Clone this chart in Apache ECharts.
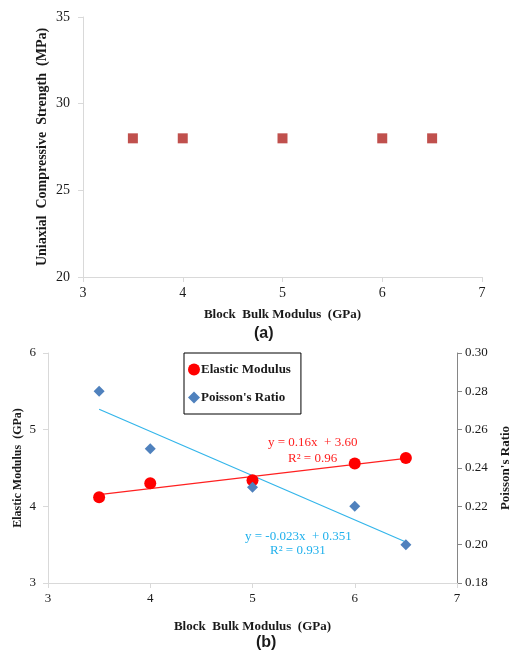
<!DOCTYPE html>
<html>
<head>
<meta charset="utf-8">
<script src="https://cdn.jsdelivr.net/npm/echarts@6/dist/echarts.min.js"></script>
<style>
html,body{margin:0;padding:0;background:#fff;}
#chart{width:510px;height:651px;}
</style>
</head>
<body>
<div id="chart"></div>
<script>
// ---- data ----
const bulkModulus = [3.5, 4, 5, 6, 6.5];
const ucsValues = [28, 28, 28, 28, 28];
const elasticModulus = [4.12, 4.30, 4.34, 4.56, 4.63];
const poissonRatio = [0.28, 0.25, 0.23, 0.22, 0.20];
const topYTicks = [20, 25, 30, 35];
const xTicks = [3, 4, 5, 6, 7];
const elasticTicks = [3, 4, 5, 6];
const poissonTicks = [0.18, 0.30];

function fit(xs, ys) {
  const n = xs.length;
  const mx = xs.reduce((a, b) => a + b, 0) / n;
  const my = ys.reduce((a, b) => a + b, 0) / n;
  let sxy = 0, sxx = 0;
  for (let i = 0; i < n; i++) { sxy += (xs[i] - mx) * (ys[i] - my); sxx += (xs[i] - mx) ** 2; }
  const slope = sxy / sxx;
  return { slope, intercept: my - slope * mx };
}
const eFit = fit(bulkModulus, elasticModulus);
const pFit = fit(bulkModulus, poissonRatio);
const xMinData = Math.min(...bulkModulus), xMaxData = Math.max(...bulkModulus);
const eLine = [xMinData, xMaxData].map(x => [x, eFit.slope * x + eFit.intercept]);
const pLine = [xMinData, xMaxData].map(x => [x, pFit.slope * x + pFit.intercept]);

const serif = '"Liberation Serif", "Times New Roman", serif';
const lightAxis = '#d9d9d9';

const chart = echarts.init(document.getElementById('chart'));
chart.setOption({
  animation: false,
  backgroundColor: '#fff',
  grid: [
    { left: 83, right: 28, top: 17, bottom: 374, outerBoundsMode: 'none', containLabel: false },
    { left: 48, right: 53, top: 353, bottom: 68, outerBoundsMode: 'none', containLabel: false }
  ],
  xAxis: [
    {
      gridIndex: 0, type: 'value', min: xTicks[0], max: xTicks[xTicks.length - 1], interval: 1,
      name: 'Block  Bulk Modulus  (GPa)', nameLocation: 'middle', nameGap: 31, nameMoveOverlap: false,
      nameTextStyle: { fontFamily: serif, fontWeight: 'bold', fontSize: 13, color: '#1a1a1a' },
      axisLine: { lineStyle: { color: lightAxis } },
      axisTick: { show: true, length: 5, lineStyle: { color: lightAxis } },
      axisLabel: { fontFamily: serif, fontSize: 14, color: '#1a1a1a', margin: 9 },
      splitLine: { show: false }
    },
    {
      gridIndex: 1, type: 'value', min: xTicks[0], max: xTicks[xTicks.length - 1], interval: 1,
      name: 'Block  Bulk Modulus  (GPa)', nameLocation: 'middle', nameGap: 37, nameMoveOverlap: false,
      nameTextStyle: { fontFamily: serif, fontWeight: 'bold', fontSize: 13, color: '#1a1a1a' },
      axisLine: { onZero: false, lineStyle: { color: lightAxis } },
      axisTick: { show: true, length: 5, lineStyle: { color: lightAxis } },
      axisLabel: { fontFamily: serif, fontSize: 13, color: '#1a1a1a', margin: 9 },
      splitLine: { show: false }
    }
  ],
  yAxis: [
    {
      gridIndex: 0, type: 'value', min: topYTicks[0], max: topYTicks[topYTicks.length - 1], interval: 5,
      name: 'Uniaxial  Compressive  Strength  (MPa)', nameLocation: 'middle', nameGap: 34, nameMoveOverlap: false,
      nameTextStyle: { fontFamily: serif, fontWeight: 'bold', fontSize: 14, color: '#1a1a1a' },
      axisLine: { show: true, lineStyle: { color: lightAxis } },
      axisTick: { show: true, length: 5, lineStyle: { color: lightAxis } },
      axisLabel: { fontFamily: serif, fontSize: 14, color: '#1a1a1a', margin: 13 },
      splitLine: { show: false }
    },
    {
      gridIndex: 1, type: 'value', min: elasticTicks[0], max: elasticTicks[elasticTicks.length - 1], interval: 1,
      name: 'Elastic Modulus  (GPa)', nameLocation: 'middle', nameGap: 24, nameMoveOverlap: false,
      nameTextStyle: { fontFamily: serif, fontWeight: 'bold', fontSize: 12, color: '#1a1a1a' },
      axisLine: { show: true, onZero: false, lineStyle: { color: lightAxis } },
      axisTick: { show: true, length: 5, lineStyle: { color: lightAxis } },
      axisLabel: { fontFamily: serif, fontSize: 13, color: '#1a1a1a', margin: 12 },
      splitLine: { show: false }
    },
    {
      gridIndex: 1, type: 'value', position: 'right', min: poissonTicks[0], max: poissonTicks[1], interval: 0.02,
      name: "Poisson's Ratio", nameLocation: 'middle', nameGap: 42, nameRotate: 90, nameMoveOverlap: false,
      nameTextStyle: { fontFamily: serif, fontWeight: 'bold', fontSize: 13, color: '#1a1a1a' },
      axisLine: { show: true, onZero: false, lineStyle: { color: '#868686' } },
      axisTick: { show: true, length: 5, lineStyle: { color: '#868686' } },
      axisLabel: { fontFamily: serif, fontSize: 13, color: '#1a1a1a', margin: 8, formatter: v => v.toFixed(2) },
      splitLine: { show: false }
    }
  ],
  legend: {
    left: 184, top: 353, width: 118, orient: 'vertical',
    borderColor: '#000', borderWidth: 1, padding: [10, 10, 10, 4],
    itemGap: 15, itemWidth: 12, itemHeight: 12,
    textStyle: { fontFamily: serif, fontWeight: 'bold', fontSize: 13, color: '#1a1a1a', padding: [0, 0, 0, -4] },
    data: [
      { name: 'Elastic Modulus', icon: 'circle', itemStyle: { color: '#ff0000' } },
      { name: "Poisson's Ratio", icon: 'diamond', itemStyle: { color: '#4f81bd' } }
    ]
  },
  series: [
    {
      type: 'scatter', xAxisIndex: 0, yAxisIndex: 0, symbol: 'rect', symbolSize: 10,
      itemStyle: { color: '#c0504d', opacity: 1 },
      data: bulkModulus.map((x, i) => [x, ucsValues[i]])
    },
    {
      name: 'Elastic Modulus Trend', type: 'line', xAxisIndex: 1, yAxisIndex: 1,
      symbol: 'none', lineStyle: { color: '#ff2020', width: 1.2 }, data: eLine, z: 2
    },
    {
      name: "Poisson's Ratio Trend", type: 'line', xAxisIndex: 1, yAxisIndex: 2,
      symbol: 'none', lineStyle: { color: '#33b5ea', width: 1.2 }, data: pLine, z: 2
    },
    {
      name: 'Elastic Modulus', type: 'scatter', xAxisIndex: 1, yAxisIndex: 1, symbol: 'circle', symbolSize: 12,
      itemStyle: { color: '#ff0000', opacity: 1 }, z: 3,
      data: bulkModulus.map((x, i) => [x, elasticModulus[i]])
    },
    {
      name: "Poisson's Ratio", type: 'scatter', xAxisIndex: 1, yAxisIndex: 2, symbol: 'diamond', symbolSize: 11,
      itemStyle: { color: '#4f81bd', opacity: 1 }, z: 3,
      data: bulkModulus.map((x, i) => [x, poissonRatio[i]])
    }
  ],
  graphic: [
    { type: 'text', left: 254, top: 326, style: { text: '(a)', font: 'bold 16px "Liberation Sans", Arial, sans-serif', fill: '#1a1a1a' } },
    { type: 'text', left: 256, top: 635, style: { text: '(b)', font: 'bold 16px "Liberation Sans", Arial, sans-serif', fill: '#1a1a1a' } },
    { type: 'text', left: 268, top: 436, style: { text: 'y = 0.16x  + 3.60', font: '13px ' + serif, fill: '#ff2020' } },
    { type: 'text', left: 288, top: 452, style: { text: 'R² = 0.96', font: '13px ' + serif, fill: '#ff2020' } },
    { type: 'text', left: 245, top: 530, style: { text: 'y = -0.023x  + 0.351', font: '13px ' + serif, fill: '#1fb0ec' } },
    { type: 'text', left: 270, top: 544, style: { text: 'R² = 0.931', font: '13px ' + serif, fill: '#1fb0ec' } }
  ]
});
</script>
</body>
</html>
